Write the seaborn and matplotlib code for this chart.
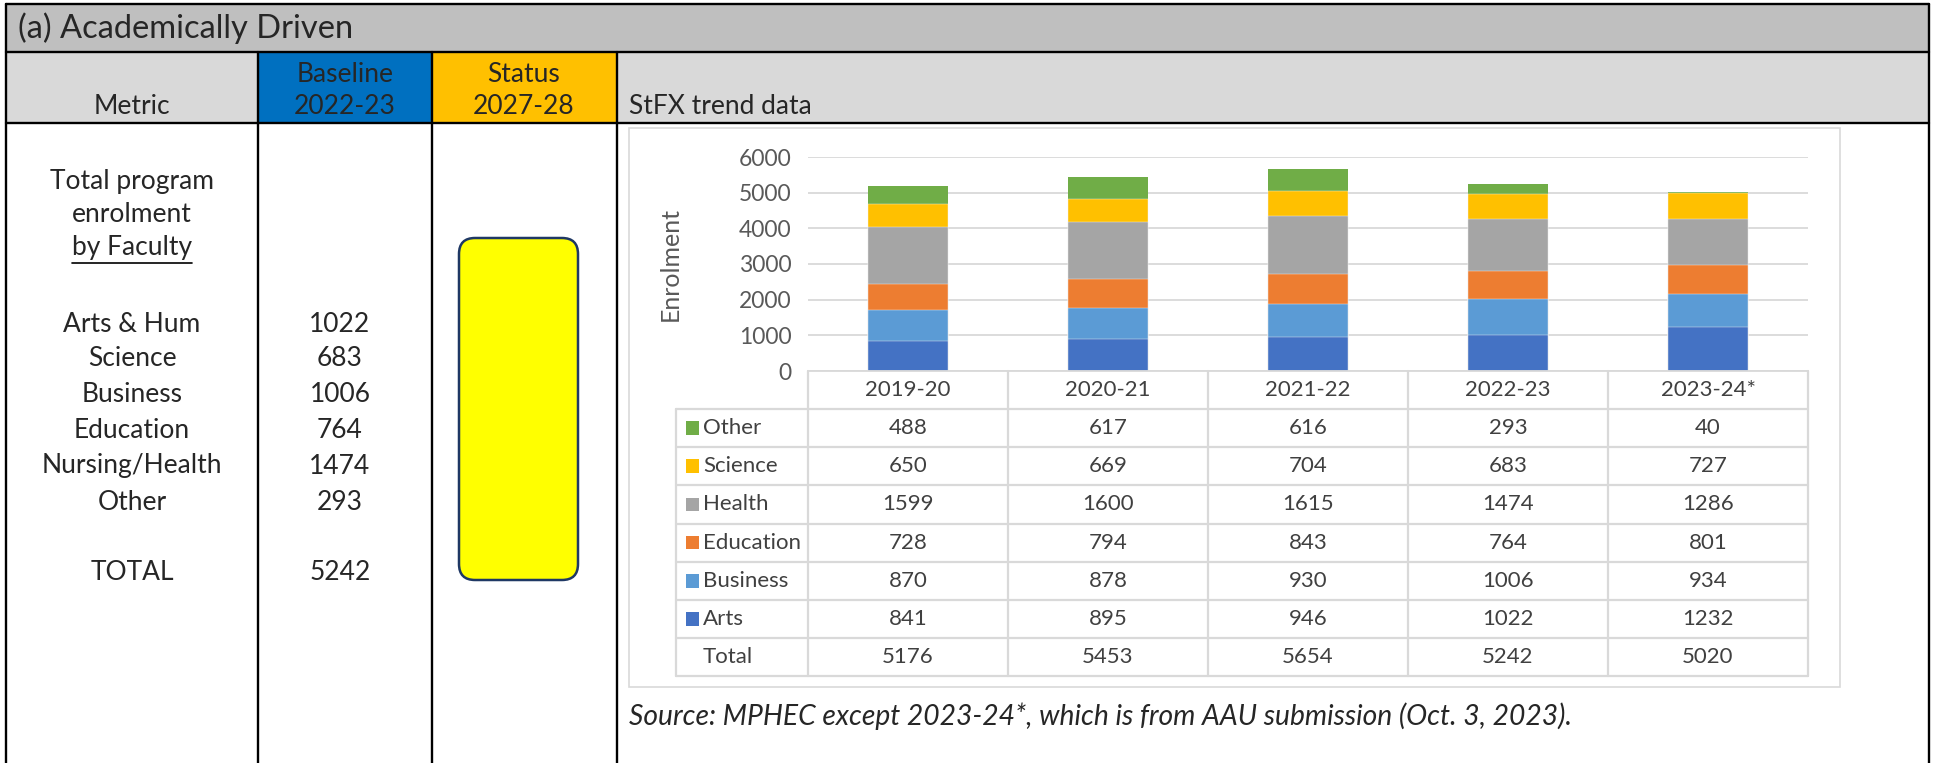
import matplotlib
matplotlib.use("Agg")
import matplotlib.pyplot as plt
import seaborn as sns
import pandas as pd
from matplotlib.patches import Rectangle, FancyBboxPatch

# ---- data ----
years = ["2019-20", "2020-21", "2021-22", "2022-23", "2023-24*"]
arts = [841, 895, 946, 1022, 1232]
business = [870, 878, 930, 1006, 934]
education = [728, 794, 843, 764, 801]
health = [1599, 1600, 1615, 1474, 1286]
science = [650, 669, 704, 683, 727]
other = [488, 617, 616, 293, 40]
totals = [5176, 5453, 5654, 5242, 5020]

metric_labels = ["Arts & Hum", "Science", "Business", "Education", "Nursing/Health", "Other"]
baseline_values = [1022, 683, 1006, 764, 1474, 293]
baseline_total = 5242

series_names = ["Arts", "Business", "Education", "Health", "Science", "Other"]
series_colors = {"Arts": "#4472C4", "Business": "#5B9BD5", "Education": "#ED7D31",
                 "Health": "#A5A5A5", "Science": "#FFC000", "Other": "#70AD47"}

df = pd.DataFrame({"year": years, "Arts": arts, "Business": business,
                   "Education": education, "Health": health,
                   "Science": science, "Other": other})

sns.set_style("white")
plt.rcParams["font.family"] = ["Lato", "DejaVu Sans"]

W, H = 1935, 763
fig = plt.figure(figsize=(W / 100, H / 100), dpi=100)

# background layer in pixel coordinates (y downwards)
bg = fig.add_axes([0, 0, 1, 1], zorder=0)
bg.set_xlim(0, W)
bg.set_ylim(H, 0)
bg.axis("off")

# header cells
bg.add_patch(Rectangle((6, 4), 1923, 48, fc="#BFBFBF", ec="none"))
bg.add_patch(Rectangle((6, 52), 252, 71, fc="#D9D9D9", ec="none"))
bg.add_patch(Rectangle((258, 52), 174, 71, fc="#0070C0", ec="none"))
bg.add_patch(Rectangle((432, 52), 185, 71, fc="#FFC000", ec="none"))
bg.add_patch(Rectangle((617, 52), 1312, 71, fc="#D9D9D9", ec="none"))

lw_b = 1.7
for y in [4, 52, 123]:
    bg.plot([6, 1929], [y, y], color="black", lw=lw_b)
for x in [6, 1929]:
    bg.plot([x, x], [4, H], color="black", lw=lw_b)
for x in [258, 432, 617]:
    bg.plot([x, x], [52, H], color="black", lw=lw_b)

fs = 19
bg.text(18, 28, "(a) Academically Driven", fontsize=23.5, va="center", ha="left")
bg.text(345, 74, "Baseline", fontsize=fs, ha="center", va="center")
bg.text(345, 107, "2022-23", fontsize=fs, ha="center", va="center")
bg.text(524, 74, "Status", fontsize=fs, ha="center", va="center")
bg.text(524, 107, "2027-28", fontsize=fs, ha="center", va="center")
bg.text(132, 107, "Metric", fontsize=fs, ha="center", va="center")
bg.text(629, 107, "StFX trend data", fontsize=fs, ha="left", va="center")

# metric column
bg.text(132, 181, "Total program", fontsize=fs, ha="center", va="center")
bg.text(132, 214, "enrolment", fontsize=fs, ha="center", va="center")
fac = bg.text(132, 248, "by Faculty", fontsize=fs, ha="center", va="center")
row_y = [325, 359, 395, 431, 466, 502]
for lab, val, y in zip(metric_labels, baseline_values, row_y):
    bg.text(132, y, lab, fontsize=fs, ha="center", va="center")
    bg.text(340, y, str(val), fontsize=fs, ha="center", va="center")
bg.text(132, 573, "TOTAL", fontsize=fs, ha="center", va="center")
bg.text(340, 573, str(baseline_total), fontsize=fs, ha="center", va="center")

fig.canvas.draw()
bb = fac.get_window_extent().transformed(bg.transData.inverted())
bg.plot([bb.x0, bb.x1], [263, 263], color="black", lw=1.2)

# status box
bg.add_patch(FancyBboxPatch((459, 238), 119, 342,
                            boxstyle="round,pad=0,rounding_size=16",
                            fc="#FFFF00", ec="#1F3864", lw=1.8))

# chart frame
bg.add_patch(Rectangle((629, 128), 1211, 559, fc="white", ec="#D9D9D9", lw=1.2))
bg.text(629, 716, "Source: MPHEC except 2023-24*, which is from AAU submission (Oct. 3, 2023).",
        fontsize=20.3, style="italic", ha="left", va="center")

# ---- stacked bars ----
ax = fig.add_axes([808 / W, 1 - 371 / H, 1000 / W, 214 / H], zorder=2)
ax.set_facecolor("none")
cum = df[series_names].cumsum(axis=1)
for name in reversed(series_names):
    sns.barplot(x=df["year"], y=cum[name], color=series_colors[name], width=0.4,
                saturation=1, edgecolor="#F2F2F2",
                linewidth=0 if name == "Other" else 0.3, ax=ax)
ax.set_xlim(-0.5, 4.5)
ax.set_ylim(0, 6000)
ax.set_yticks(range(0, 6001, 1000))
ax.yaxis.grid(True, color="#D9D9D9", lw=1.3)
ax.set_axisbelow(True)
sns.despine(ax=ax, left=True, top=True, right=True)
ax.spines["bottom"].set_color("#D9D9D9")
ax.spines["bottom"].set_linewidth(1.3)
ax.tick_params(axis="x", labelbottom=False, length=0)
ax.tick_params(axis="y", length=0, labelsize=16.5, labelcolor="#595959", pad=12)
ax.set_xlabel("")
ax.set_ylabel("Enrolment", fontsize=18, color="#595959")
ax.yaxis.set_label_coords(-0.126, 0.5)

# ---- data table ----
tab = fig.add_axes([808 / W, 1 - 676 / H, 1000 / W, 305 / H], zorder=2)
tab.set_xlim(-0.5, 4.5)
tab.set_ylim(8, 0)
tab.axis("off")
lc = "#D9D9D9"
tfs = 16
left = -1.16
for r in range(1, 9):
    tab.plot([left, 4.5], [r, r], color=lc, lw=1.6, clip_on=False)
for i in range(6):
    tab.plot([i - 0.5, i - 0.5], [0, 8], color=lc, lw=1.6, clip_on=False)
tab.plot([left, left], [1, 8], color=lc, lw=1.6, clip_on=False)

for i, yr in enumerate(years):
    tab.text(i, 0.5, yr, ha="center", va="center", fontsize=tfs, color="#404040")

table_rows = list(reversed(series_names))
for r, name in enumerate(table_rows, start=1):
    tab.add_patch(Rectangle((left + 0.05, r + 0.32), 0.065, 0.36,
                            fc=series_colors[name], ec="none", clip_on=False))
    tab.text(left + 0.135, r + 0.5, name, ha="left", va="center",
             fontsize=tfs, color="#404040", clip_on=False)
    for i, v in enumerate(df[name]):
        tab.text(i, r + 0.5, str(v), ha="center", va="center", fontsize=tfs, color="#404040")
tab.text(left + 0.135, 7.5, "Total", ha="left", va="center", fontsize=tfs, color="#404040")
for i, v in enumerate(totals):
    tab.text(i, 7.5, str(v), ha="center", va="center", fontsize=tfs, color="#404040")

fig.savefig("out.png", dpi=100)
